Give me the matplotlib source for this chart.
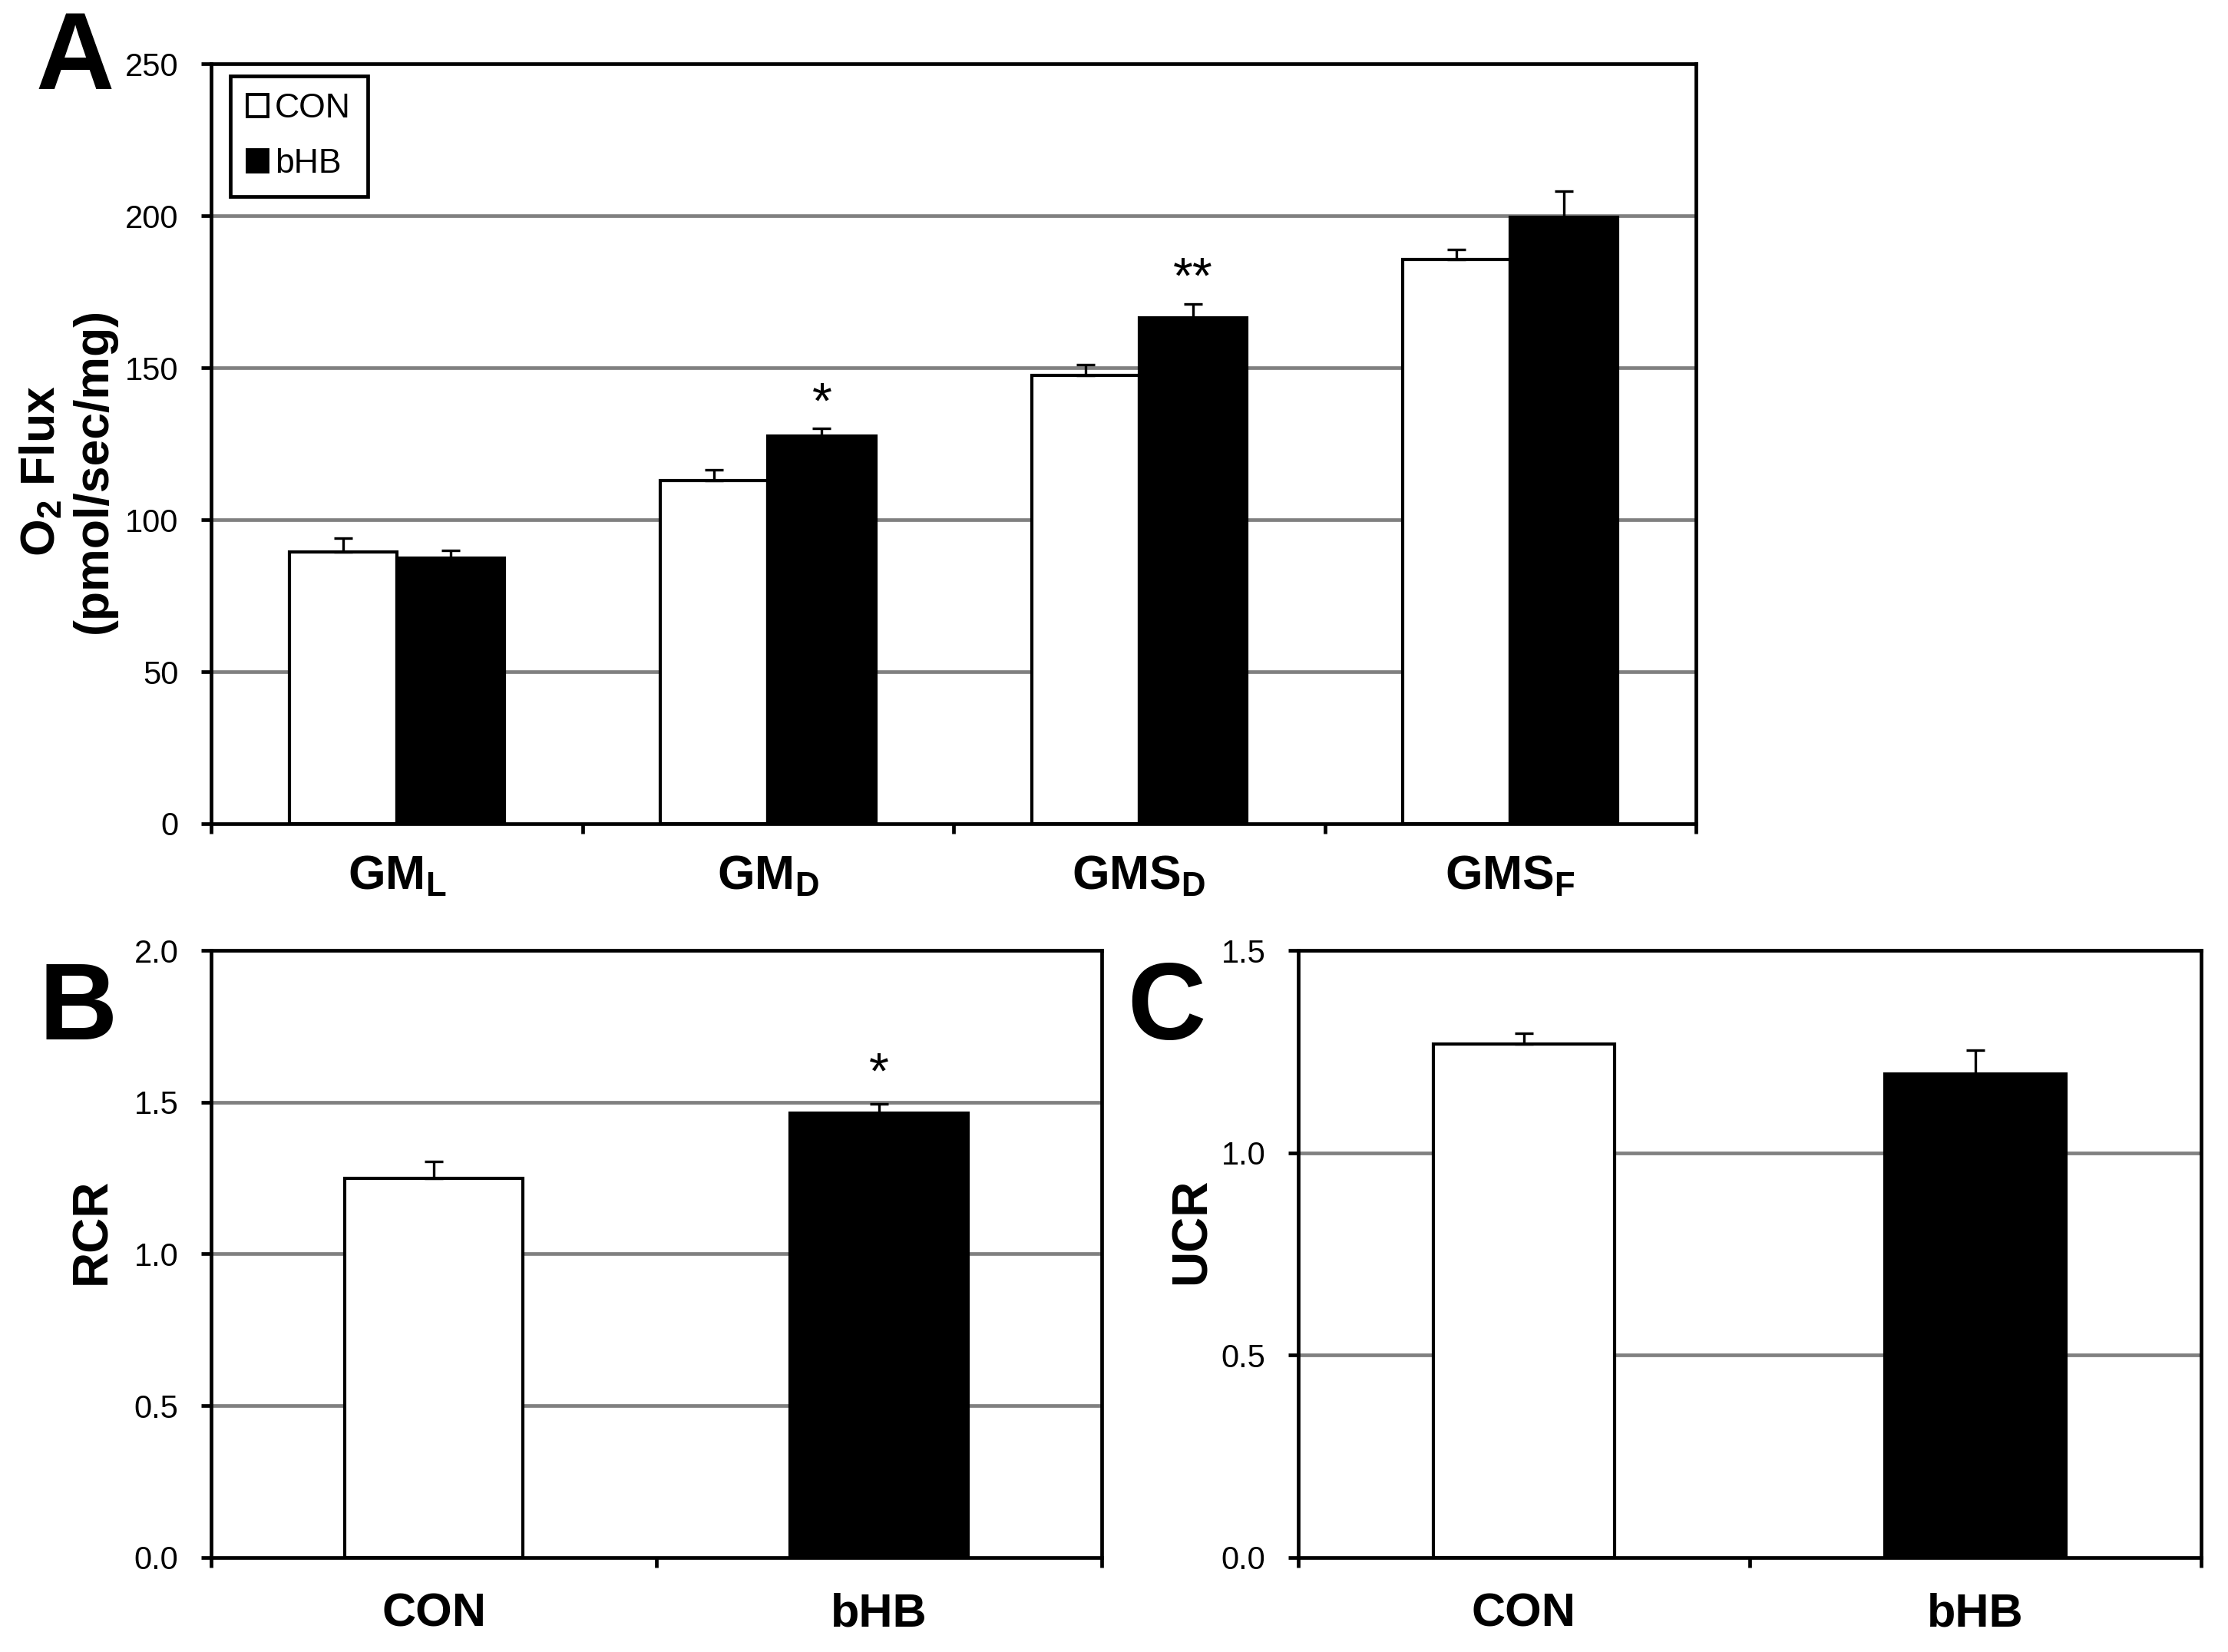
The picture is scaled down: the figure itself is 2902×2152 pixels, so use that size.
import matplotlib.pyplot as plt
from matplotlib.patches import Patch
import numpy as np

plt.rcParams['font.family'] = ['Liberation Sans', 'DejaVu Sans']
plt.rcParams['mathtext.fontset'] = 'custom'
plt.rcParams['mathtext.rm'] = 'Liberation Sans'
plt.rcParams['mathtext.bf'] = 'Liberation Sans:bold'

# panel A data
flux_cats = [r'$\mathbf{GM_L}$', r'$\mathbf{GM_D}$', r'$\mathbf{GMS_D}$', r'$\mathbf{GMS_F}$']
flux_con = [89.5, 113, 147.5, 185.5]
flux_con_err = [4.5, 3.5, 3.5, 3.5]
flux_bhb = [87.5, 127.5, 166.5, 199.5]
flux_bhb_err = [2.3, 2.5, 4.5, 8.5]
flux_sig = ['', '*', '**', '']

# panel B / C data
groups = ['CON', 'bHB']
rcr = [1.25, 1.465]
rcr_err = [0.055, 0.03]
rcr_sig = ['', '*']
ucr = [1.268, 1.194]
ucr_err = [0.028, 0.06]

GRID = '#808080'
LW = 1.7
BAR_LW = 1.5
EKW = dict(lw=1.2, capsize=4.2, capthick=1.2, ecolor='black')


def style_axes(ax, ymax, ystep, fmt, ncat):
    ticks = np.arange(0, ymax + ystep / 2, ystep)
    ax.set_ylim(0, ymax)
    ax.set_xlim(-0.5, ncat - 0.5)
    ax.set_yticks(ticks)
    ax.set_yticklabels([fmt.format(v) for v in ticks], fontsize=15)
    for v in ticks[1:-1]:
        ax.axhline(v, color=GRID, lw=1.7, zorder=0)
    for s in ax.spines.values():
        s.set_linewidth(LW)
    ax.set_xticks(np.arange(-0.5, ncat, 1.0))
    ax.set_xticklabels([])
    ax.tick_params(axis='both', which='major', direction='out', length=4.8, width=LW)
    ax.tick_params(axis='y', pad=10.5)


fig = plt.figure(figsize=(14.51, 10.76), dpi=200)

# ---- A ----
axA = fig.add_axes([0.0948, 0.5014, 0.7612 - 0.0948, 0.9614 - 0.5014])
x = np.arange(len(flux_cats))
w = 0.29
axA.bar(x - w / 2, flux_con, w, color='white', edgecolor='black', lw=BAR_LW, zorder=2,
        yerr=[np.zeros(4), flux_con_err], error_kw=EKW)
axA.bar(x + w / 2, flux_bhb, w, color='black', edgecolor='black', lw=BAR_LW, zorder=2,
        yerr=[np.zeros(4), flux_bhb_err], error_kw=EKW)
for i, s in enumerate(flux_sig):
    if s:
        axA.text(x[i] + w / 2, flux_bhb[i] + flux_bhb_err[i], s, ha='center', va='bottom',
                 fontsize=24)
style_axes(axA, 250, 50, '{:.0f}', 4)
axA.set_xticks(x, minor=True)
axA.set_xticklabels(flux_cats, minor=True, fontsize=22.5)
axA.tick_params(axis='x', which='minor', length=0, pad=14)
leg = axA.legend(handles=[Patch(facecolor='white', edgecolor='black', lw=1.4, label='CON'),
                          Patch(facecolor='black', edgecolor='black', lw=1.4, label='bHB')],
                 loc='upper left', bbox_to_anchor=(0.013, 0.984), borderaxespad=0,
                 fancybox=False, edgecolor='black', framealpha=1, fontsize=16,
                 handlelength=0.6, handleheight=0.6, handletextpad=0.2,
                 labelspacing=0.7, borderpad=0.5)
leg.get_frame().set_linewidth(LW)
fig.text(0.0303, 0.715, r'$\mathbf{O_2}$ Flux' + '\n(pmol/sec/mg)', rotation=90,
         ha='center', va='center', fontsize=22.5, fontweight='bold', linespacing=1.18)
fig.text(0.0335, 0.946, 'A', fontsize=51, fontweight='bold', ha='center', va='baseline')

# ---- B ----
axB = fig.add_axes([0.0948, 0.0572, 0.4945 - 0.0948, 0.4247 - 0.0572])
xb = np.arange(len(groups))
axB.bar(xb, rcr, 0.4, color=['white', 'black'], edgecolor='black', lw=BAR_LW, zorder=2,
        yerr=[np.zeros(2), rcr_err], error_kw=EKW)
for i, s in enumerate(rcr_sig):
    if s:
        axB.text(xb[i], rcr[i] + rcr_err[i] + 0.015, s, ha='center', va='bottom', fontsize=24)
style_axes(axB, 2.0, 0.5, '{:.1f}', 2)
axB.set_xticks(xb, minor=True)
axB.set_xticklabels(groups, minor=True, fontsize=22, fontweight='bold')
axB.tick_params(axis='x', which='minor', length=0, pad=16.5)
fig.text(0.0414, 0.2546, 'RCR', rotation=90, ha='center', va='center', fontsize=23, fontweight='bold')
fig.text(0.035, 0.371, 'B', fontsize=51, fontweight='bold', ha='center', va='baseline')

# ---- C ----
axC = fig.add_axes([0.5827, 0.0572, 0.9879 - 0.5827, 0.4247 - 0.0572])
axC.bar(xb, ucr, 0.4, color=['white', 'black'], edgecolor='black', lw=BAR_LW, zorder=2,
        yerr=[np.zeros(2), ucr_err], error_kw=EKW)
style_axes(axC, 1.5, 0.5, '{:.1f}', 2)
axC.set_xticks(xb, minor=True)
axC.set_xticklabels(groups, minor=True, fontsize=22, fontweight='bold')
axC.tick_params(axis='x', which='minor', length=0, pad=16.5)
fig.text(0.535, 0.2546, 'UCR', rotation=90, ha='center', va='center', fontsize=23, fontweight='bold')
fig.text(0.5234, 0.371, 'C', fontsize=51, fontweight='bold', ha='center', va='baseline')

fig.savefig('out.png', dpi=200)
